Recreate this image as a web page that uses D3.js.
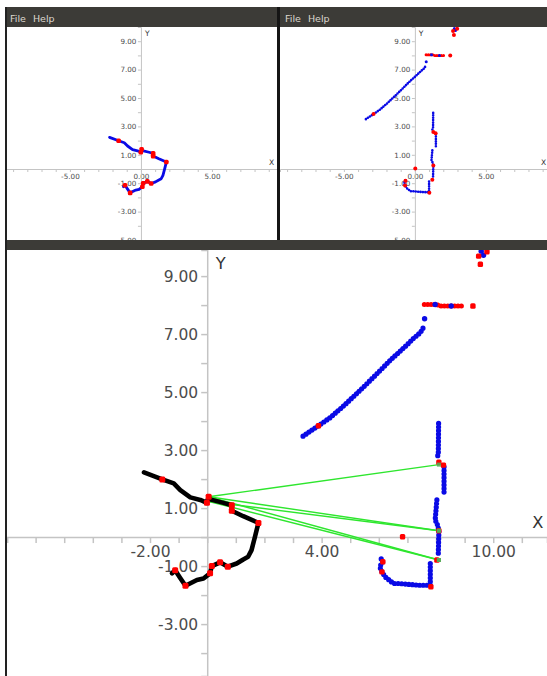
<!DOCTYPE html>
<html><head><meta charset="utf-8">
<script src="https://cdn.jsdelivr.net/npm/d3@7"></script>
<style>html,body{margin:0;padding:0;background:#fff;overflow:hidden}</style>
</head><body><svg id="c" width="547" height="676"></svg>
<script>
// ---------------- data ----------------
const menuItems = ["File", "Help"];
const yTickLabels = [9, 7, 5, 3, 1, -1, -3, -5];
const topXTickLabels = [-5, 0, 5];
const mainXTickLabels = [-2, 4, 10];

// robot trajectory (world frame)
const trajectory = [[-2.21,2.23],[-1.57,1.99],[-1.17,1.85],[-0.94,1.62],[-0.59,1.37],[-0.24,1.28],[-0.01,1.18],[0.05,1.39],[0.1,1.3],[0.57,1.18],[0.86,1.1],[0.86,0.91],[1.26,0.72],[1.79,0.49],[1.67,0.01],[1.55,-0.45],[1.43,-0.68],[1.26,-0.77],[1.03,-0.91],[0.72,-1.02],[0.45,-0.87],[0.16,-1.0],[0.1,-1.25],[-0.13,-1.43],[-0.36,-1.48],[-0.76,-1.68],[-0.95,-1.4],[-1.12,-1.14],[-1.23,-1.25]];
const trajectoryMarks = [[-1.57,1.99],[-0.01,1.18],[0.05,1.39],[0.86,1.1],[0.86,0.91],[1.79,0.49],[0.72,-1.02],[0.45,-0.87],[0.16,-1.0],[0.1,-1.25],[-0.76,-1.68],[-1.12,-1.14]];

// matched rays (pose -> landmark)
const rayStarts = [[0.05,1.39],[0.05,1.39],[0.1,1.22],[0.05,1.39],[0.1,1.22]];
const rayEnds   = [[8.1,2.5],[8.1,0.22],[8.1,0.22],[8.1,-0.79],[8.1,-0.79]];

// laser scan (world frame)
const scanBlueLines = [
  [[3.35,3.48],[3.6,3.65],[3.89,3.84],[4.3,4.12],[4.8,4.55],[5.47,5.18],[5.9,5.6],[6.4,6.1],[6.9,6.55],[7.21,6.85],[7.45,7.05],[7.56,7.23]],
  [[8.09,3.92],[8.08,2.85],[8.02,2.72]],
  [[8.28,2.42],[8.28,1.45]],
  [[8.03,1.28],[7.97,0.59],[8.06,0.4],[8.1,0.22],[8.08,-0.56]],
  [[7.8,-0.91],[7.8,-1.66],[7.4,-1.66],[6.69,-1.6],[6.51,-1.6],[6.22,-1.37],[6.11,-1.2],[6.03,-1.02],[6.14,-0.85],[6.07,-0.73]]
];
const scanBluePoints = [[7.6,7.53],[7.97,8.02],[8.53,7.97],[9.58,9.86],[9.66,9.72]];
const scanRedLines = [[[7.59,8.02],[8.03,8.02],[8.15,7.97],[8.91,7.97]]];
const scanRedPoints = [[3.89,3.84],[9.29,7.97],[9.55,9.41],[9.49,9.69],[9.78,9.84],[8.1,2.58],[8.26,2.48],[8.1,0.22],[8.03,-0.79],[7.82,-1.71],[6.11,-1.2],[6.14,-0.85],[6.83,0.01]];
// sensor frame offset for the right-hand view
const sensorOffset = [-6.8, 0.03];

// ---------------- drawing ----------------
const svg = d3.select("#c");
const FONT = "DejaVu Sans, sans-serif";
const BAR = "#3c3b37";
const fmt = d => d.toFixed(2);

function panel(cfg) {
  const g = svg.append("g");
  const id = "clip" + Math.random().toString(36).slice(2);
  svg.append("clipPath").attr("id", id).append("rect")
    .attr("x", cfg.x0).attr("y", cfg.y0).attr("width", cfg.x1 - cfg.x0).attr("height", cfg.y1 - cfg.y0);
  g.attr("clip-path", `url(#${id})`);
  g.append("rect").attr("x", cfg.x0).attr("y", cfg.y0).attr("width", cfg.x1 - cfg.x0).attr("height", cfg.y1 - cfg.y0).attr("fill", "#fff");
  const xs = d3.scaleLinear().domain(cfg.xDomain).range([cfg.x0, cfg.x1]);
  const ys = d3.scaleLinear().domain(cfg.yDomain).range([cfg.y1, cfg.y0]);
  const xAx = d3.axisBottom(xs)
    .tickValues(d3.range(Math.ceil(cfg.xDomain[0]), Math.floor(cfg.xDomain[1]) + 1))
    .tickFormat(d => cfg.xLabels.includes(d) ? fmt(d) : "")
    .tickSizeOuter(0).tickSize(cfg.tick).tickPadding(cfg.pad);
  const yAx = d3.axisLeft(ys)
    .tickValues(d3.range(Math.floor(cfg.yDomain[0]), Math.floor(cfg.yDomain[1]) + 1))
    .tickFormat(d => yTickLabels.includes(d) ? fmt(d) : "")
    .tickSizeOuter(0).tickSize(cfg.tick).tickPadding(cfg.pad);
  const ga = g.append("g");
  const gx = ga.append("g").attr("transform", `translate(0,${ys(0)})`).call(xAx);
  const gy = ga.append("g").attr("transform", `translate(${xs(0)},0)`).call(yAx);
  [gx, gy].forEach(a => {
    a.selectAll("path,line").attr("stroke", "#c4c4c4").attr("stroke-width", cfg.axisW);
    a.selectAll("text").attr("fill", "#4c4c4c").attr("font-family", FONT).attr("font-size", cfg.font);
  });
  ga.append("text").text("Y").attr("x", xs(0) + cfg.font * 0.55).attr("y", ys(cfg.yDomain[1]) + cfg.font * 1.25)
    .attr("font-family", FONT).attr("font-size", cfg.font * 1.05).attr("fill", "#333");
  ga.append("text").text("X").attr("x", xs(0) + (cfg.xLabelPos)).attr("y", ys(0) - cfg.font * 0.6)
    .attr("font-family", FONT).attr("font-size", cfg.font * 1.05).attr("fill", "#333");
  return {g, xs, ys};
}

function menuBar(x0, x1) {
  svg.append("rect").attr("x", x0).attr("y", 7).attr("width", x1 - x0).attr("height", 20).attr("fill", BAR);
  let x = x0 + 5;
  menuItems.forEach(m => {
    const t = svg.append("text").text(m).attr("x", x).attr("y", 21.5)
      .attr("font-family", FONT).attr("font-size", 9.5).attr("fill", "#dcd8cf");
    x += t.node().getComputedTextLength() + 7;
  });
}

// top-left: trajectory view
const P1 = panel({x0: 6, x1: 277, y0: 27, y1: 240, xDomain: [-9.5, 9.58], yDomain: [-5, 10],
  xLabels: topXTickLabels, tick: 3, pad: 1.5, font: 7.2, axisW: 1, xLabelPos: 128});
{
  const {g, xs, ys} = P1;
  const line = d3.line().x(d => xs(d[0])).y(d => ys(d[1]));
  g.append("path").attr("d", line(trajectory)).attr("fill", "none").attr("stroke", "#0a0ae6")
    .attr("stroke-width", 2.8).attr("stroke-linejoin", "round").attr("stroke-linecap", "round");
  g.selectAll(null).data(trajectoryMarks).join("rect")
    .attr("x", d => xs(d[0]) - 2.3).attr("y", d => ys(d[1]) - 2.3).attr("width", 4.6).attr("height", 4.6)
    .attr("rx", 1.5).attr("fill", "#f00");
}

// top-right: sensor view
const P2 = panel({x0: 280, x1: 556, y0: 27, y1: 240, xDomain: [-9.5, 9.94], yDomain: [-5, 10],
  xLabels: topXTickLabels, tick: 3, pad: 1.5, font: 7.2, axisW: 1, xLabelPos: 126});
{
  const {g, xs, ys} = P2;
  const sx = d => xs(d[0] + sensorOffset[0]), sy = d => ys(d[1] + sensorOffset[1]);
  const line = d3.line().x(sx).y(sy);
  scanBlueLines.forEach(l => g.append("path").attr("d", line(l)).attr("fill", "none")
    .attr("stroke", "#0a0ae6").attr("stroke-width", 2.6).attr("stroke-linecap", "round")
    .attr("stroke-linejoin", "round").attr("stroke-dasharray", "0 2.4"));
  scanRedLines.forEach(l => g.append("path").attr("d", line(l)).attr("fill", "none")
    .attr("stroke", "#f00").attr("stroke-width", 3).attr("stroke-linecap", "round").attr("stroke-dasharray", "0 2.2"));
  g.selectAll(null).data(scanBluePoints).join("circle").attr("cx", sx).attr("cy", sy).attr("r", 1.5).attr("fill", "#0a0ae6");
  g.selectAll(null).data(scanRedPoints).join("circle").attr("cx", sx).attr("cy", sy).attr("r", 2).attr("fill", "#f00");
}

// main: world view
const P3 = panel({x0: 7, x1: 547, y0: 250, y1: 676, xDomain: [-7.0, 11.88], yDomain: [-4.79, 9.9],
  xLabels: mainXTickLabels, tick: 6, pad: 3, font: 15.5, axisW: 1.5, xLabelPos: 325});
{
  const {g, xs, ys} = P3;
  const px = d => xs(d[0]), py = d => ys(d[1]);
  const line = d3.line().x(px).y(py);
  // rays
  rayStarts.forEach((s, i) => g.append("line")
    .attr("x1", px(s)).attr("y1", py(s)).attr("x2", px(rayEnds[i])).attr("y2", py(rayEnds[i]))
    .attr("stroke", "#2ee62e").attr("stroke-width", 1.4));
  // scan
  scanBlueLines.forEach(l => g.append("path").attr("d", line(l)).attr("fill", "none")
    .attr("stroke", "#0a0ae6").attr("stroke-width", 5.2).attr("stroke-linecap", "round")
    .attr("stroke-linejoin", "round").attr("stroke-dasharray", "0 3.6"));
  scanRedLines.forEach(l => g.append("path").attr("d", line(l)).attr("fill", "none")
    .attr("stroke", "#f00").attr("stroke-width", 5).attr("stroke-linecap", "round").attr("stroke-dasharray", "0 3.4"));
  g.selectAll(null).data(scanBluePoints).join("circle").attr("cx", px).attr("cy", py).attr("r", 2.7).attr("fill", "#0a0ae6");
  g.selectAll(null).data(scanRedPoints).join("rect")
    .attr("x", d => px(d) - 2.7).attr("y", d => py(d) - 2.7).attr("width", 5.4).attr("height", 5.4).attr("rx", 1.5).attr("fill", "#f00");
  // trajectory
  g.append("path").attr("d", line(trajectory)).attr("fill", "none").attr("stroke", "#000")
    .attr("stroke-width", 4.6).attr("stroke-linejoin", "round").attr("stroke-linecap", "round");
  g.selectAll(null).data(trajectoryMarks).join("rect")
    .attr("x", d => px(d) - 3).attr("y", d => py(d) - 3).attr("width", 6).attr("height", 6).attr("rx", 1.5).attr("fill", "#f00");
  // matched landmark ends
  g.selectAll(null).data(rayEnds).join("rect")
    .attr("x", d => px(d) - 2).attr("y", d => py(d) - 2).attr("width", 4).attr("height", 4).attr("fill", "#5a5").attr("opacity", 0.9);
}

// window chrome
menuBar(5, 277);
menuBar(280, 547);
svg.append("rect").attr("x", 277).attr("y", 7).attr("width", 3).attr("height", 234).attr("fill", "#151515");
svg.append("rect").attr("x", 5).attr("y", 240).attr("width", 542).attr("height", 10).attr("fill", BAR);
svg.append("rect").attr("x", 5).attr("y", 7).attr("width", 2).attr("height", 669).attr("fill", "#222");
</script></body></html>
